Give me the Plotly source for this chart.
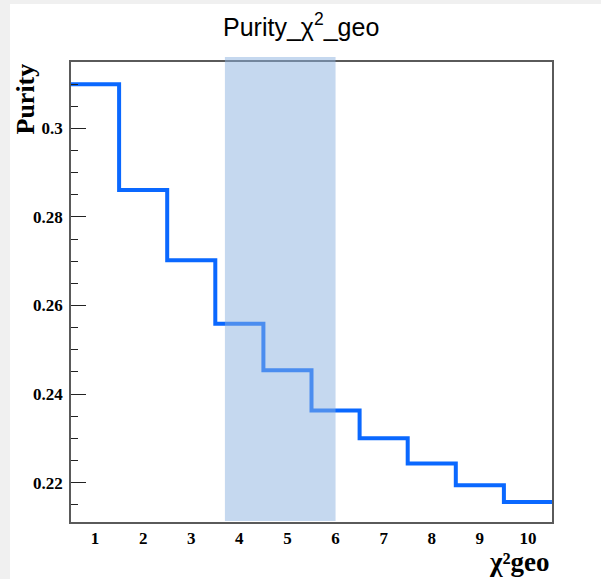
import plotly.graph_objects as go

bin_centers = [1, 2, 3, 4, 5, 6, 7, 8, 9, 10]
purity = [0.3100, 0.2861, 0.2702, 0.2559, 0.2454, 0.2363, 0.2300, 0.2243, 0.2194, 0.2156]
band_range = [3.7, 6.0]
x_ticks = [1, 2, 3, 4, 5, 6, 7, 8, 9, 10]
y_ticks = [0.22, 0.24, 0.26, 0.28, 0.3]
y_tick_text = ["0.22", "0.24", "0.26", "0.28", "0.3"]

# step outline built from bin centers (width 1)
edges = [c - 0.5 for c in bin_centers] + [bin_centers[-1] + 0.5]
step_y = purity + [purity[-1]]

fig = go.Figure()
fig.add_trace(go.Scatter(
    x=edges, y=step_y, mode="lines", line_shape="hv",
    line=dict(color="#0a68ff", width=4), showlegend=False, hoverinfo="skip",
))

serif = "Liberation Serif"
fig.update_layout(
    width=601, height=579,
    margin=dict(l=71, r=49, t=62, b=57),
    paper_bgcolor="white", plot_bgcolor="white",
    xaxis=dict(
        range=[0.5, 10.5], tickmode="array", tickvals=x_ticks,
        ticks="", showgrid=False, zeroline=False,
        showline=True, linecolor="#5a5a5a", linewidth=1.5, mirror=True,
        tickfont=dict(family=serif, size=17, color="black", weight="bold"),
        ticklabelstandoff=0,
    ),
    yaxis=dict(
        range=[0.2111, 0.315], tickmode="array", tickvals=y_ticks, ticktext=y_tick_text,
        ticks="inside", ticklen=15, tickcolor="#222", tickwidth=1,
        minor=dict(dtick=0.005, tick0=0, ticks="inside", ticklen=7, tickcolor="#222", tickwidth=1),
        showgrid=False, zeroline=False,
        showline=True, linecolor="#5a5a5a", linewidth=1.5, mirror=True,
        tickfont=dict(family=serif, size=17, color="black", weight="bold"),
        ticklabelstandoff=3,
    ),
    shapes=[
        dict(type="rect", xref="x", yref="paper", x0=band_range[0], x1=band_range[1],
             y0=0.002, y1=1.011, fillcolor="rgba(140,178,224,0.5)", line=dict(width=0), layer="above"),
        dict(type="rect", xref="paper", yref="paper", x0=-71/481, x1=-61/481,
             y0=-57/460, y1=1 + 62/460, fillcolor="#f0f0f0", line=dict(width=0), layer="below"),
        dict(type="rect", xref="paper", yref="paper", x0=-71/481, x1=1 + 49/481,
             y0=1 + 58/460, y1=1 + 62/460, fillcolor="#f0f0f0", line=dict(width=0), layer="below"),
    ],
    annotations=[
        dict(text="Purity_χ<sup>2</sup>_geo", xref="paper", yref="paper", x=(301 - 71) / 481, y=1 + 37 / 460,
             xanchor="center", yanchor="middle", showarrow=False,
             font=dict(family="Liberation Sans", size=25, color="black")),
        dict(text="<b>Purity</b>", xref="paper", yref="paper", x=-46 / 481, y=1,
             xanchor="center", yanchor="top", textangle=-90, showarrow=False,
             font=dict(family=serif, size=26, color="black")),
        dict(text="<b>χ²geo</b>", xref="paper", yref="paper", x=1, y=-57 / 460,
             xanchor="right", yanchor="bottom", showarrow=False,
             font=dict(family=serif, size=27, color="black")),
    ],
)

fig.write_html("out.html")
